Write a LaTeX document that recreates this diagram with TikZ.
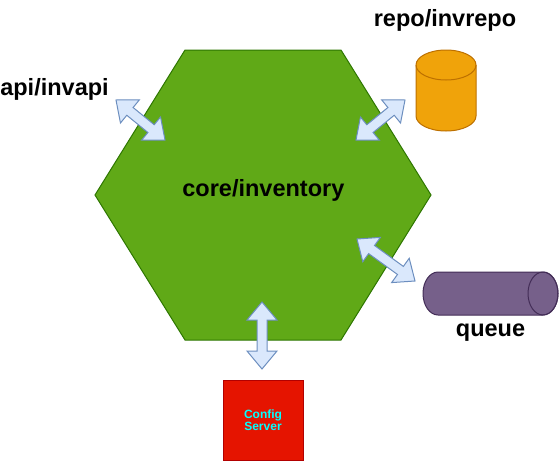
\documentclass[tikz,border=0pt]{standalone}
\usepackage{fontspec}
\setmainfont{Liberation Sans}
\usetikzlibrary{calc}
\definecolor{hexfill}{HTML}{60A917}
\definecolor{hexline}{HTML}{2D7600}
\definecolor{repofill}{HTML}{F0A30A}
\definecolor{repoline}{HTML}{BD7000}
\definecolor{qfill}{HTML}{76608A}
\definecolor{qline}{HTML}{432D57}
\definecolor{cfgfill}{HTML}{E51400}
\definecolor{cfgline}{HTML}{B20000}
\definecolor{cfgtext}{HTML}{00FFFF}
\definecolor{arrfill}{HTML}{DAE8FC}
\definecolor{arrline}{HTML}{6C8EBF}
\newcommand\flexarrow[2]{%
  \filldraw[flexarrowstyle] (#1)
  -- ($(#1)!18pt!(#2)!15pt!90:(#2)$)
  -- ($(#1)!18pt!(#2)!5pt!90:(#2)$)
  -- ($(#2)!18pt!(#1)!5pt!-90:(#1)$)
  -- ($(#2)!18pt!(#1)!15pt!-90:(#1)$)
  -- (#2)
  -- ($(#2)!18pt!(#1)!15pt!90:(#1)$)
  -- ($(#2)!18pt!(#1)!5pt!90:(#1)$)
  -- ($(#1)!18pt!(#2)!5pt!-90:(#2)$)
  -- ($(#1)!18pt!(#2)!15pt!-90:(#2)$)
  -- cycle;}
\tikzset{
  hexstyle/.style={fill=hexfill, draw=hexline, line width=1pt, line join=miter},
  repostyle/.style={fill=repofill, draw=repoline, line width=1pt},
  qstyle/.style={fill=qfill, draw=qline, line width=1pt},
  cfgbox/.style={fill=cfgfill, draw=cfgline, line width=1pt, minimum width=80pt, minimum height=80pt, inner sep=0pt, align=center, text=cfgtext, font=\bfseries\fontsize{12}{12.5}\selectfont},
  flexarrowstyle/.style={fill=arrfill, draw=arrline, line width=1pt, line join=miter},
  lbl/.style={inner sep=0pt, anchor=base, font=\bfseries\fontsize{23.5}{28}\selectfont},
}
\begin{document}
\begin{tikzpicture}[x=1pt, y=-1pt]
\useasboundingbox (0,0) rectangle (559,461);
% hexagon
\draw[hexstyle] (185,50) -- (341,50) -- (431,195) -- (341,340) -- (185,340) -- (95,195) -- cycle;
\node[lbl] (core) at (263.4,196.7) {core/inventory};
% repo cylinder
\node[inner sep=0pt, minimum width=60pt, minimum height=81pt] (repo) at (446,90.5) {};
\draw[repostyle] (416,65) -- (416,116) arc (180:360:30pt and 15pt) -- (476,65) arc (0:180:30pt and 15pt) -- cycle;
\draw[repostyle, fill=none] (416,65) arc (180:360:30pt and 15pt);
\node[lbl] (repolabel) at (445,26.7) {repo/invrepo};
% queue cylinder
\node[inner sep=0pt, minimum width=135pt, minimum height=43pt] (queue) at (490.5,293.5) {};
\draw[qstyle] (438,272) -- (543,272) arc (90:-90:15pt and 21.5pt) -- (438,315) arc (270:90:15pt and 21.5pt) -- cycle;
\draw[qstyle, fill=none] (543,293.5) ellipse (15pt and 21.5pt);
\node[lbl] (queuelabel) at (490.5,336.7) {queue};
% api label
\node[lbl] (apilabel) at (54.5,95.7) {api/invapi};
% config server
\node[cfgbox] (cfg) at (263,420) {Config\\Server};
% arrow end points
\coordinate (apiA) at (116,100);
\coordinate (apiB) at (165,140);
\coordinate (repoA) at (356,140);
\coordinate (repoB) at (405,100);
\coordinate (qA) at (357,239);
\coordinate (qB) at (415,281);
\coordinate (cfgA) at (262,302);
\coordinate (cfgB) at (262,369);
\flexarrow{apiA}{apiB}
\flexarrow{repoA}{repoB}
\flexarrow{qA}{qB}
\flexarrow{cfgA}{cfgB}
\end{tikzpicture}
\end{document}
